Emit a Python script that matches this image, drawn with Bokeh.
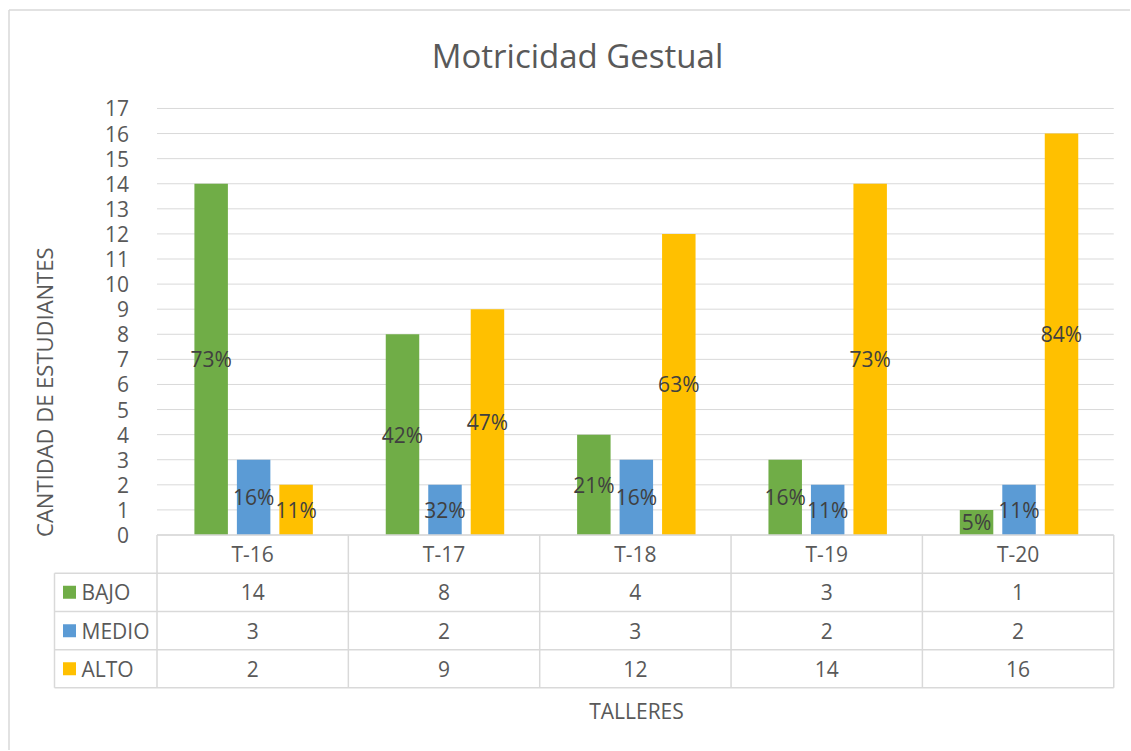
from math import pi
from bokeh.plotting import figure
from bokeh.models import LinearAxis, FixedTicker, Range1d, ColumnDataSource
from bokeh.core.properties import value
from bokeh.embed import file_html
from bokeh.resources import INLINE

# ---- data ----
categories = ["T-16", "T-17", "T-18", "T-19", "T-20"]
series_names = ["BAJO", "MEDIO", "ALTO"]
bajo = [14, 8, 4, 3, 1]
medio = [3, 2, 3, 2, 2]
alto = [2, 9, 12, 14, 16]
bajo_pct = ["73%", "42%", "21%", "16%", "5%"]
medio_pct = ["16%", "32%", "16%", "11%", "11%"]
alto_pct = ["11%", "47%", "63%", "73%", "84%"]
y_ticks = list(range(0, 18))
title_text = "Motricidad Gestual"
y_label = "CANTIDAD  DE  ESTUDIANTES"
x_label = "TALLERES"

# ---- style ----
colors = ["#70AD47", "#5B9BD5", "#FFC000"]
offsets = [-0.217, 0.005, 0.227]
bar_w = 0.175
FONT = "Open Sans"
TXT = "#595959"
GRID = "#D9D9D9"
FS = "21px"

W, H = 1130, 750
PAGE = 0
X0, XU = 156.5, 191.35      # page px of x=0, px per category
Y0, YU = 534.5, 25.09       # page px of y=0, px per unit


def px2x(px):
    return (px - X0) / XU


def py2y(py):
    return (Y0 - py) / YU


p = figure(width=W, height=H, output_backend="svg", toolbar_location=None,
           x_range=Range1d(px2x(PAGE), px2x(PAGE + W)),
           y_range=Range1d(py2y(PAGE + H), py2y(PAGE)),
           min_border=0, x_axis_type=None, y_axis_type=None)
p.outline_line_color = None
p.xgrid.visible = False
p.ygrid.visible = False
p.background_fill_color = "white"
p.border_fill_color = "white"

ncat = len(categories)

# chart border (left and top visible)
p.segment(x0=[px2x(8.5), px2x(8.5)], x1=[px2x(8.5), px2x(PAGE + W + 5)],
          y0=[py2y(9.5), py2y(9.5)], y1=[py2y(PAGE + H + 5), py2y(9.5)],
          line_color=GRID, line_width=1.5)

# gridlines
p.segment(x0=[0] * len(y_ticks), x1=[ncat] * len(y_ticks), y0=y_ticks, y1=y_ticks,
          line_color=GRID, line_width=1)

# y axis placed at x=0 inside the frame
yax = LinearAxis(ticker=FixedTicker(ticks=y_ticks), fixed_location=0)
yax.axis_line_color = None
yax.major_tick_line_color = None
yax.minor_tick_line_color = None
yax.major_label_standoff = 22
yax.major_label_text_font = FONT
yax.major_label_text_font_size = FS
yax.major_label_text_color = TXT
p.add_layout(yax, "left")

# bars + percentage labels
centers = [i + 0.5 for i in range(ncat)]
for vals, pcts, col, off in zip([bajo, medio, alto], [bajo_pct, medio_pct, alto_pct], colors, offsets):
    xs = [c + off for c in centers]
    src = ColumnDataSource(dict(x=xs, top=vals, mid=[v / 2 for v in vals], lab=pcts))
    p.vbar(x="x", top="top", bottom=0, width=bar_w, source=src, fill_color=col, line_color=None)
    p.text(x="x", y="mid", text="lab", source=src, text_align="center", text_baseline="middle",
           text_font=value(FONT), text_font_size=FS, text_color="#404040")

# data table
y_head_top = 0
y_head_bot = py2y(572.7)
row_lines = [py2y(611), py2y(649.3), py2y(687.3)]
row_bottoms = [y_head_bot] + row_lines
x_left = px2x(54)

# horizontal lines
p.segment(x0=[0], x1=[ncat], y0=[y_head_top], y1=[y_head_top], line_color=GRID, line_width=1.5)
p.segment(x0=[x_left] * 4, x1=[ncat] * 4, y0=row_bottoms, y1=row_bottoms, line_color=GRID, line_width=1.5)
# vertical lines
vx = list(range(ncat + 1))
p.segment(x0=vx, x1=vx, y0=[y_head_top] * len(vx), y1=[row_lines[-1]] * len(vx), line_color=GRID, line_width=1.5)
p.segment(x0=[x_left], x1=[x_left], y0=[y_head_bot], y1=[row_lines[-1]], line_color=GRID, line_width=1.5)

# header labels
p.text(x=centers, y=[(y_head_top + y_head_bot) / 2] * ncat, text=categories,
       text_align="center", text_baseline="middle", text_font=value(FONT),
       text_font_size=FS, text_color=TXT)

# rows
for r, (name, vals, col) in enumerate(zip(series_names, [bajo, medio, alto], colors)):
    yc = (row_bottoms[r] + row_bottoms[r + 1]) / 2
    p.text(x=centers, y=[yc] * ncat, text=[str(v) for v in vals],
           text_align="center", text_baseline="middle", text_font=value(FONT),
           text_font_size=FS, text_color=TXT)
    p.scatter(x=[px2x(69)], y=[yc], marker="square", size=13, fill_color=col, line_color=None)
    p.text(x=[px2x(81)], y=[yc], text=[name], text_align="left", text_baseline="middle",
           text_font=value(FONT), text_font_size=FS, text_color=TXT)

# title and axis labels
p.text(x=[px2x(577)], y=[py2y(55)], text=[title_text], text_align="center", text_baseline="middle",
       text_font=value(FONT), text_font_size="33px", text_color=TXT)
p.text(x=[px2x(43)], y=[py2y(386)], text=[y_label], angle=pi / 2, text_align="center",
       text_baseline="middle", text_font=value(FONT), text_font_size="22px", text_color=TXT)
p.text(x=[px2x(636)], y=[py2y(710)], text=[x_label], text_align="center", text_baseline="middle",
       text_font=value(FONT), text_font_size=FS, text_color=TXT)

open("out.html", "w").write(file_html(p, INLINE))
